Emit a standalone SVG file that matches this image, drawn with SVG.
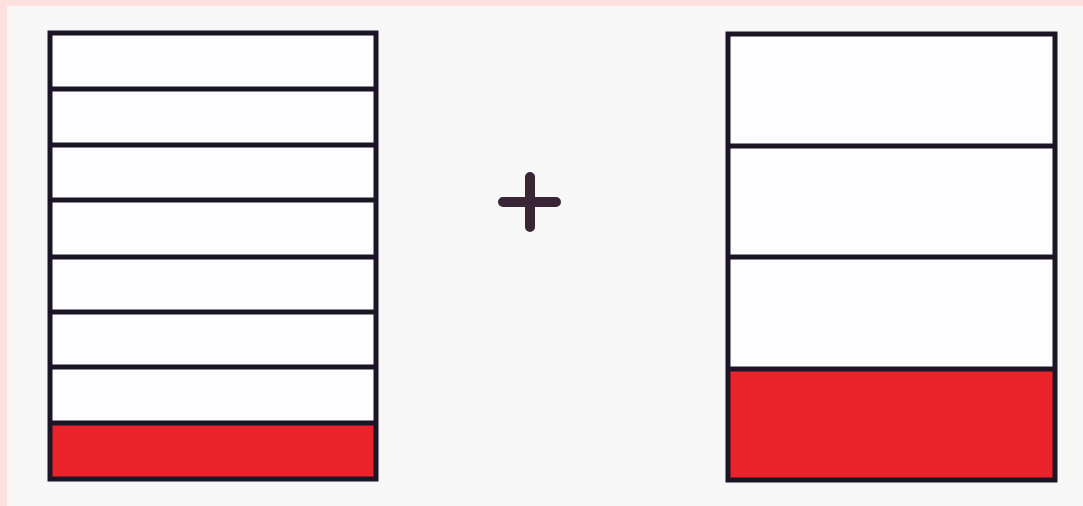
<svg xmlns="http://www.w3.org/2000/svg" width="1083" height="506" viewBox="0 0 1083 506">
<style>
.frame{fill:none;stroke:#1c1526;stroke-width:5}
.div{stroke:#1c1526;stroke-width:5}
.red{fill:#ea232b}
.cell{fill:#fdfcfe}
</style>
<rect x="0" y="0" width="1083" height="506" fill="#f7f7f8"/>
<rect x="0" y="0" width="1083" height="6" fill="#fde1df"/>
<rect x="0" y="0" width="7" height="506" fill="#fde1df"/>
<g id="left-stack">
<rect class="cell" x="50" y="33" width="326" height="390"/>
<rect class="red" x="50" y="423" width="326" height="56"/>
<line class="div" x1="50" y1="89" x2="376" y2="89"/>
<line class="div" x1="50" y1="145" x2="376" y2="145"/>
<line class="div" x1="50" y1="200" x2="376" y2="200"/>
<line class="div" x1="50" y1="257" x2="376" y2="257"/>
<line class="div" x1="50" y1="312" x2="376" y2="312"/>
<line class="div" x1="50" y1="367" x2="376" y2="367"/>
<line class="div" x1="50" y1="423" x2="376" y2="423"/>
<rect class="frame" x="50" y="33" width="326" height="446"/>
</g>
<g id="plus">
<path d="M503 202H556M530 177V227" stroke="#3a2536" stroke-width="10" stroke-linecap="round" fill="none"/>
</g>
<g id="right-stack">
<rect class="cell" x="728" y="34" width="327" height="335"/>
<rect class="red" x="728" y="369" width="327" height="111"/>
<line class="div" x1="728" y1="146" x2="1055" y2="146"/>
<line class="div" x1="728" y1="257" x2="1055" y2="257"/>
<line class="div" x1="728" y1="369" x2="1055" y2="369"/>
<rect class="frame" x="728" y="34" width="327" height="446"/>
</g>
<g id="connectors"/>
</svg>
